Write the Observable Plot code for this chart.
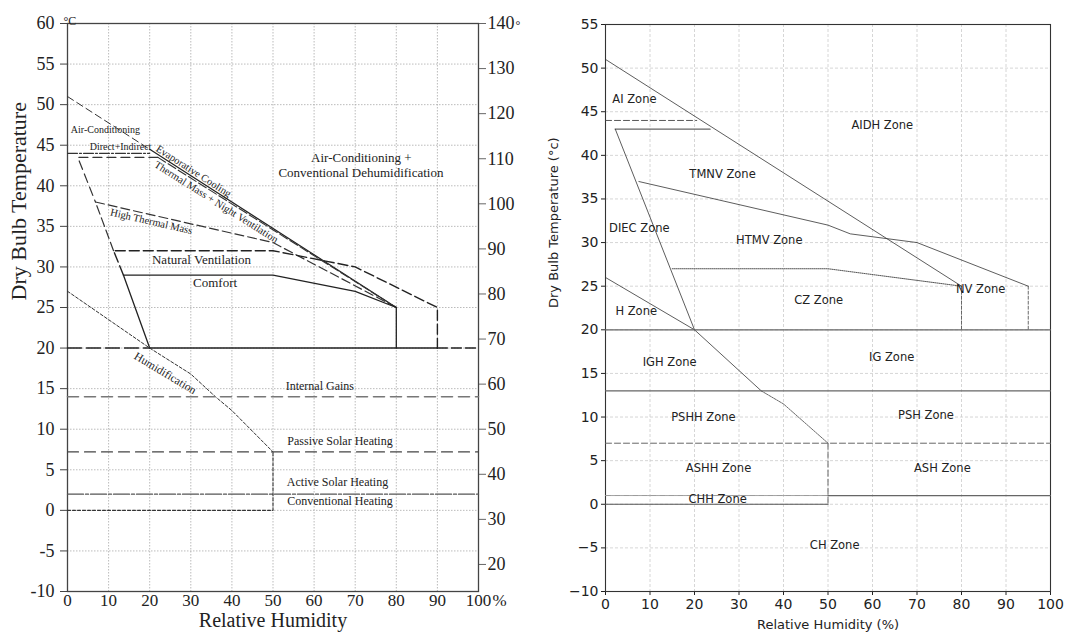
<!DOCTYPE html>
<html>
<head>
<meta charset="utf-8">
<script src="https://cdn.jsdelivr.net/npm/d3@7"></script>
<script src="https://cdn.jsdelivr.net/npm/@observablehq/plot@0.6"></script>
<style>
  html, body { margin: 0; padding: 0; background: #fff; }
  #wrap { position: relative; width: 1073px; height: 637px; overflow: hidden; }
  #left { position: absolute; left: 0; top: 0; }
  #right { position: absolute; left: 540px; top: 0; }
  svg { overflow: hidden; }
</style>
</head>
<body>
<div id="wrap"><div id="left"></div><div id="right"></div></div>
<script>
// ---------- shared ticks ----------
const rhTicks = [0, 10, 20, 30, 40, 50, 60, 70, 80, 90, 100];
const leftTempTicks = [-10, -5, 0, 5, 10, 15, 20, 25, 30, 35, 40, 45, 50, 55, 60];
const fahrenheitTicks = [20, 30, 40, 50, 60, 70, 80, 90, 100, 110, 120, 130, 140];
const rightTempTicks = [-10, -5, 0, 5, 10, 15, 20, 25, 30, 35, 40, 45, 50, 55];

// ---------- left panel (Givoni-style chart) : [RH %, °C] ----------
const L_airConditioning = [[0, 51], [20, 44.5]];
const L_evaporativeCooling = [[20, 44.5], [80, 25]];
const L_thermalMassNightVent = [[22, 43.5], [80, 25]];
const L_directIndirect = [[0, 44], [20, 44]];
const L_directIndirectBox = [[22, 43.5], [2.5, 43.5], [6.8, 38]];
const L_highThermalMass = [[11.2, 32], [6.8, 38], [50, 33], [80, 25]];
const L_naturalVentilation = [[13.6, 29], [11.2, 32], [50, 32], [70, 30], [90, 25], [90, 20]];
const L_comfort = [[20, 20], [13.6, 29], [50, 29], [70, 27], [80, 25], [80, 20]];
const L_line20Dashed = [[0, 20], [20, 20]];
const L_line20Solid = [[20, 20], [90, 20]];
const L_line20Right = [[90, 20], [100, 20]];
const L_humidification = [[0, 27], [20, 20], [30, 16.8], [36, 14], [40, 12.3], [50, 7.2]];
const L_internalGains = [[0, 14], [100, 14]];
const L_passiveSolar = [[0, 7.2], [100, 7.2]];
const L_activeSolar = [[0, 2], [100, 2]];
const L_conventionalHeating = [[0, 0], [50, 0], [50, 7.2]];

const L_labels = [
  {text: "Air-Conditioning", rh: 0.8, t: 46.9, rot: 0, size: 10, anchor: "start"},
  {text: "Direct+Indirect", rh: 12.9, t: 44.8, rot: 0, size: 10, anchor: "middle"},
  {text: "Evaporative Cooling", rh: 30.7, t: 41.8, rot: 32.7, size: 10.5, anchor: "middle"},
  {text: "Thermal Mass + Night Ventilation", rh: 36.2, t: 38.0, rot: 32.2, size: 10.5, anchor: "middle"},
  {text: "High Thermal Mass", rh: 20.4, t: 35.6, rot: 13, size: 10.5, anchor: "middle"},
  {text: "Natural Ventilation", rh: 32.6, t: 30.9, rot: 0, size: 13, anchor: "middle"},
  {text: "Comfort", rh: 35.9, t: 28.0, rot: 0, size: 13, anchor: "middle"},
  {text: "Air-Conditioning +", rh: 71.5, t: 43.5, rot: 0, size: 13, anchor: "middle"},
  {text: "Conventional Dehumidification", rh: 71.4, t: 41.6, rot: 0, size: 13, anchor: "middle"},
  {text: "Humidification", rh: 23.8, t: 16.9, rot: 31, size: 11.5, anchor: "middle"},
  {text: "Internal Gains", rh: 61.4, t: 15.3, rot: 0, size: 12, anchor: "middle"},
  {text: "Passive Solar Heating", rh: 66.3, t: 8.5, rot: 0, size: 12, anchor: "middle"},
  {text: "Active Solar Heating", rh: 65.7, t: 3.5, rot: 0, size: 12, anchor: "middle"},
  {text: "Conventional Heating", rh: 66.3, t: 1.1, rot: 0, size: 12, anchor: "middle"}
];

// ---------- right panel (zones) : [RH %, °C] ----------
const R_upperDiagonal = [[0, 51], [80, 25]];
const R_ai44 = [[0, 44], [20.5, 44]];
const R_d43 = [[2.2, 43], [23.5, 43]];
const R_diec = [[2.2, 43], [20, 20]];
const R_hLine = [[0, 26], [20, 20]];
const R_humidSolid = [[20, 20], [35, 13]];
const R_humidDotted = [[35, 13], [40, 11.5], [50, 7]];
const R_htmv = [[7.5, 37], [50, 32], [55, 31], [70, 30], [95, 25]];
const R_nvRight = [[95, 25], [95, 20]];
const R_cz = [[15, 27], [50, 27], [80, 25]];
const R_czRight = [[80, 25], [80, 20]];
const R_line20 = [[0, 20], [100, 20]];
const R_line13 = [[0, 13], [100, 13]];
const R_line7 = [[0, 7], [100, 7]];
const R_vertical50 = [[50, 7], [50, 0]];
const R_line1Left = [[0, 1], [50, 1]];
const R_line1Right = [[50, 1], [100, 1]];
const R_line0 = [[0, 0], [50, 0]];

const R_labels = [
  {text: "AI Zone", rh: 6.5, t: 46.4},
  {text: "AIDH Zone", rh: 62.2, t: 43.5},
  {text: "TMNV Zone", rh: 26.3, t: 37.8},
  {text: "DIEC Zone", rh: 7.6, t: 31.6},
  {text: "HTMV Zone", rh: 36.8, t: 30.3},
  {text: "CZ Zone", rh: 47.9, t: 23.4},
  {text: "NV Zone", rh: 84.3, t: 24.6},
  {text: "H Zone", rh: 6.9, t: 22.1},
  {text: "IGH Zone", rh: 14.4, t: 16.3},
  {text: "IG Zone", rh: 64.3, t: 16.8},
  {text: "PSHH Zone", rh: 22, t: 10},
  {text: "PSH Zone", rh: 72, t: 10.2},
  {text: "ASHH Zone", rh: 25.4, t: 4.1},
  {text: "ASH Zone", rh: 75.7, t: 4.1},
  {text: "CHH Zone", rh: 25.2, t: 0.6},
  {text: "CH Zone", rh: 51.5, t: -4.7}
];

// ---------- helpers ----------
const seg = (data, opts) => Plot.line(data, {x: d => d[0], y: d => d[1], ...opts});

// ---------- left chart ----------
const serif = "Liberation Serif, Times New Roman, serif";
const leftChart = Plot.plot({
  width: 524, height: 637,
  marginLeft: 67, marginRight: 46, marginTop: 23, marginBottom: 46,
  x: {domain: [0, 100]},
  y: {domain: [-10, 60]},
  style: {fontFamily: serif, background: "#fff", color: "#222"},
  marks: [
    Plot.gridX(rhTicks, {stroke: "#aaa", strokeOpacity: 1, strokeDasharray: "1.5,1.5", strokeWidth: 0.8}),
    Plot.gridY(leftTempTicks, {stroke: "#aaa", strokeOpacity: 1, strokeDasharray: "1.5,1.5", strokeWidth: 0.8}),
    Plot.axisY(leftTempTicks, {anchor: "left", tickSize: 7, tickPadding: 6, fontSize: 18, label: null,
      tickFormat: d => String(d), stroke: "#444"}),
    Plot.axisY(fahrenheitTicks.map(f => (f - 32) / 1.8), {anchor: "right", tickSize: 7, tickPadding: 2,
      fontSize: 18, label: null, tickFormat: c => String(Math.round(c * 1.8 + 32)), stroke: "#666"}),
    Plot.axisX(rhTicks, {anchor: "bottom", tickSize: 0, tickPadding: 2, fontSize: 17, label: null,
      tickFormat: d => String(d)}),
    Plot.frame({stroke: "#444", strokeWidth: 1.3}),
    // curves
    seg(L_airConditioning, {stroke: "#333", strokeWidth: 1, strokeDasharray: "7,4"}),
    seg(L_evaporativeCooling, {stroke: "#222", strokeWidth: 1.2}),
    seg(L_thermalMassNightVent, {stroke: "#333", strokeWidth: 1.1, strokeDasharray: "9,3"}),
    seg(L_directIndirect, {stroke: "#333", strokeWidth: 1.2, strokeDasharray: "10,2,2,2"}),
    seg(L_directIndirectBox, {stroke: "#333", strokeWidth: 1.2, strokeDasharray: "9,5"}),
    seg(L_highThermalMass, {stroke: "#333", strokeWidth: 1.2, strokeDasharray: "9,4"}),
    seg(L_naturalVentilation, {stroke: "#222", strokeWidth: 1.4, strokeDasharray: "10,4"}),
    seg(L_comfort, {stroke: "#222", strokeWidth: 1.3}),
    seg(L_line20Dashed, {stroke: "#222", strokeWidth: 1.4, strokeDasharray: "14,5"}),
    seg(L_line20Solid, {stroke: "#222", strokeWidth: 1.4}),
    seg(L_line20Right, {stroke: "#222", strokeWidth: 1.4, strokeDasharray: "10,4"}),
    seg(L_humidification, {stroke: "#333", strokeWidth: 1, strokeDasharray: "3,2"}),
    seg(L_internalGains, {stroke: "#777", strokeWidth: 1.6, strokeDasharray: "11,6"}),
    seg(L_passiveSolar, {stroke: "#444", strokeWidth: 1.2, strokeDasharray: "11,6"}),
    seg(L_activeSolar, {stroke: "#555", strokeWidth: 1.3, strokeDasharray: "16,2,3,2"}),
    seg(L_conventionalHeating, {stroke: "#333", strokeWidth: 1.1, strokeDasharray: "3,2"}),
    // labels
    Plot.text(L_labels.filter(d => d.anchor === "start"), {x: "rh", y: "t", text: "text", rotate: "rot",
      fontSize: 10, textAnchor: "start", fill: "#222"}),
    Plot.text(L_labels.filter(d => d.anchor === "middle"), {x: "rh", y: "t", text: "text", rotate: "rot",
      fontSize: d => d.size, textAnchor: "middle", fill: "#222"}),
    // axis titles and units
    Plot.text(["Dry Bulb Temperature"], {frameAnchor: "left", dx: -49, dy: -7, rotate: -90, fontSize: 22, fill: "#222"}),
    Plot.text(["Relative Humidity"], {frameAnchor: "bottom", dy: 35, fontSize: 20, fill: "#222"}),
    Plot.text(["°C"], {frameAnchor: "top-left", dx: -4, dy: -7, textAnchor: "start", fontSize: 12, fill: "#222"}),
    Plot.text(["%"], {frameAnchor: "bottom-right", dx: 14, dy: 2, lineAnchor: "top", textAnchor: "start", fontSize: 17, fill: "#222"}),
    Plot.text(["°"], {frameAnchor: "top-right", dx: 37, dy: -3, textAnchor: "start", fontSize: 12, fill: "#222"})
  ]
});
document.getElementById("left").appendChild(leftChart);

// ---------- right chart ----------
const sans = "DejaVu Sans, sans-serif";
const minus = d => d < 0 ? "\u2212" + (-d) : String(d);
const rightChart = Plot.plot({
  width: 533, height: 637,
  marginLeft: 65, marginRight: 23, marginTop: 24, marginBottom: 46,
  x: {domain: [0, 100]},
  y: {domain: [-10, 55]},
  style: {fontFamily: sans, background: "#fff", color: "#222"},
  marks: [
    Plot.gridX(rhTicks, {stroke: "#ccc", strokeOpacity: 1, strokeDasharray: "3,2", strokeWidth: 0.8}),
    Plot.gridY(rightTempTicks, {stroke: "#ccc", strokeOpacity: 1, strokeDasharray: "3,2", strokeWidth: 0.8}),
    Plot.axisY(rightTempTicks, {anchor: "left", tickSize: 4, tickPadding: 3, fontSize: 14, label: null, tickFormat: minus}),
    Plot.axisX(rhTicks, {anchor: "bottom", tickSize: 4, tickPadding: 4, fontSize: 14, label: null, tickFormat: minus}),
    Plot.frame({stroke: "#333", strokeWidth: 1.1}),
    seg(R_upperDiagonal, {stroke: "#333", strokeWidth: 0.8}),
    seg(R_ai44, {stroke: "#444", strokeWidth: 0.9, strokeDasharray: "6,3"}),
    seg(R_d43, {stroke: "#666", strokeWidth: 1.3}),
    seg(R_diec, {stroke: "#333", strokeWidth: 0.8}),
    seg(R_hLine, {stroke: "#333", strokeWidth: 0.8}),
    seg(R_humidSolid, {stroke: "#333", strokeWidth: 0.8}),
    seg(R_humidDotted, {stroke: "#444", strokeWidth: 0.8, strokeDasharray: "2,1"}),
    seg(R_htmv, {stroke: "#333", strokeWidth: 0.8}),
    seg(R_nvRight, {stroke: "#444", strokeWidth: 0.8, strokeDasharray: "3,2"}),
    seg(R_cz, {stroke: "#555", strokeWidth: 1, strokeDasharray: "1,1"}),
    seg(R_czRight, {stroke: "#444", strokeWidth: 0.8, strokeDasharray: "3,2"}),
    seg(R_line20, {stroke: "#666", strokeWidth: 1.2}),
    seg(R_line13, {stroke: "#666", strokeWidth: 1.2}),
    seg(R_line7, {stroke: "#666", strokeWidth: 1, strokeDasharray: "6,3"}),
    seg(R_vertical50, {stroke: "#666", strokeWidth: 1, strokeDasharray: "6,3"}),
    seg(R_line1Left, {stroke: "#999", strokeWidth: 1, strokeDasharray: "6,1,1,1"}),
    seg(R_line1Right, {stroke: "#666", strokeWidth: 1.2}),
    seg(R_line0, {stroke: "#555", strokeWidth: 1.2}),
    Plot.text(R_labels, {x: "rh", y: "t", text: "text", fontSize: 11.5, fill: "#222"}),
    Plot.text(["Dry Bulb Temperature (°c)"], {frameAnchor: "left", dx: -52, rotate: -90, fontSize: 13, fill: "#222"}),
    Plot.text(["Relative Humidity (%)"], {frameAnchor: "bottom", dy: 37, fontSize: 13, fill: "#222"})
  ]
});
document.getElementById("right").appendChild(rightChart);
</script>
</body>
</html>
